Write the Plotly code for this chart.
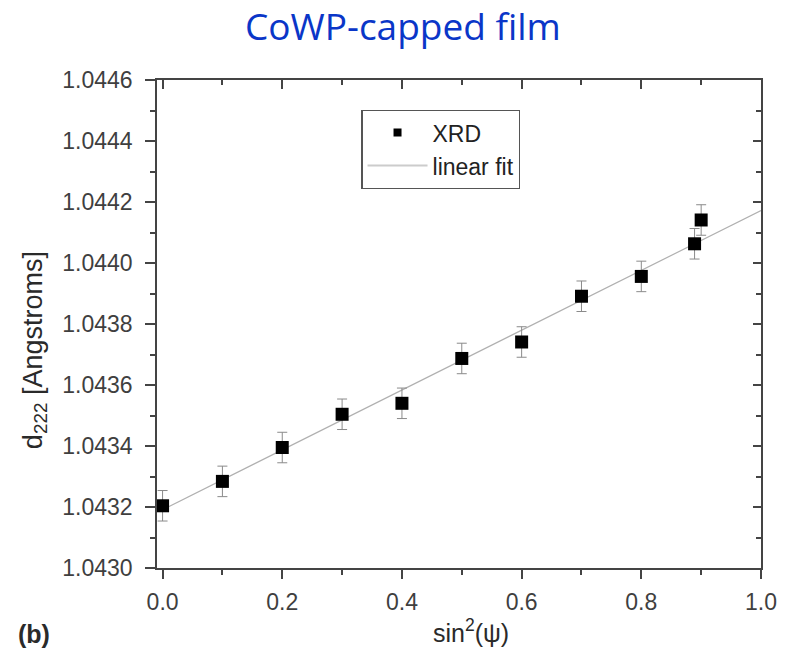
import plotly.graph_objects as go

# ---- data ----
sin2psi = [0.0, 0.1, 0.2, 0.3, 0.4, 0.5, 0.6, 0.7, 0.8, 0.889, 0.9]
d222 = [1.043204, 1.043284, 1.043395, 1.043504, 1.043540, 1.043687,
        1.043741, 1.043891, 1.043956, 1.044063, 1.044141]
d222_err = [0.00005] * len(sin2psi)
fit_x = [0.0, 1.0]
fit_y = [1.043191, 1.044172]

x_ticks = [0.0, 0.2, 0.4, 0.6, 0.8, 1.0]
x_ticklabels = ["0.0", "0.2", "0.4", "0.6", "0.8", "1.0"]
y_ticks = [1.0430, 1.0432, 1.0434, 1.0436, 1.0438, 1.0440, 1.0442, 1.0444, 1.0446]
y_ticklabels = ["1.0430", "1.0432", "1.0434", "1.0436", "1.0438", "1.0440",
                "1.0442", "1.0444", "1.0446"]

XR = [-0.0093, 1.0]
YR = [1.0430, 1.0446]

W, H = 789, 650
L, R, T, B = 157, 26, 80, 81.5
PW, PH = W - L - R, H - T - B


def px(xp):
    return (xp - L) / PW


def py(yp):
    return (H - B - yp) / PH


AX_FONT = dict(family="Liberation Sans, Arial, sans-serif", size=23, color="#3f3f3f")
AX_COL = "#444444"

fig = go.Figure()

fig.add_trace(go.Scatter(
    x=fit_x, y=fit_y, mode="lines",
    line=dict(color="#b0b0b0", width=1.2),
    name="linear fit", showlegend=False))

fig.add_trace(go.Scatter(
    x=sin2psi, y=d222, mode="markers",
    marker=dict(symbol="square", size=13, color="black"),
    error_y=dict(type="data", array=d222_err, visible=True,
                 color="#8a8a8a", thickness=1, width=5),
    name="XRD", showlegend=False))

# legend-only entries (small marker like the reference legend)
fig.add_trace(go.Scatter(
    x=[None], y=[None], mode="markers",
    marker=dict(symbol="square", size=8, color="black"), name="XRD"))
fig.add_trace(go.Scatter(
    x=[None], y=[None], mode="lines",
    line=dict(color="#cccccc", width=2), name="linear fit"))

# mirrored axes with inward ticks
fig.add_trace(go.Scatter(x=[None], y=[None], xaxis="x2", yaxis="y2",
                         showlegend=False, hoverinfo="skip"))

common_x = dict(range=XR, tickvals=x_ticks, ticktext=x_ticklabels,
                showgrid=False, zeroline=False, showline=True,
                linecolor=AX_COL, linewidth=1.5, tickcolor=AX_COL,
                tickwidth=1.5, minor=dict(dtick=0.1, ticklen=5, tickcolor=AX_COL,
                                          tickwidth=1.5, showgrid=False))
common_y = dict(range=YR, tickvals=y_ticks, ticktext=y_ticklabels,
                showgrid=False, zeroline=False, showline=True,
                linecolor=AX_COL, linewidth=1.5, tickcolor=AX_COL,
                tickwidth=1.5, minor=dict(dtick=0.0001, tick0=1.0430, ticklen=5,
                                          tickcolor=AX_COL, tickwidth=1.5,
                                          showgrid=False))

fig.update_layout(
    width=W, height=H,
    margin=dict(l=L, r=R, t=T, b=B, pad=0),
    paper_bgcolor="white", plot_bgcolor="white",
    xaxis=dict(**common_x, ticks="outside", ticklen=9, tickfont=AX_FONT,
               ticklabelstandoff=4),
    yaxis=dict(**common_y, ticks="outside", ticklen=10, tickfont=AX_FONT,
               ticklabelstandoff=8),
    xaxis2=dict(**common_x, overlaying="x", side="top", ticks="inside",
                ticklen=9, showticklabels=False),
    yaxis2=dict(**common_y, overlaying="y", side="right", ticks="inside",
                ticklen=8, showticklabels=False),
    legend=dict(x=px(362), y=py(110), xanchor="left", yanchor="top",
                bgcolor="white", bordercolor="#555555", borderwidth=1.2,
                font=dict(family="Liberation Sans, Arial, sans-serif",
                          size=23, color="#222222"),
                tracegroupgap=0, itemwidth=60),
    showlegend=True,
)
fig.update_layout(xaxis2_minor_ticks="inside", yaxis2_minor_ticks="inside",
                  xaxis_minor_ticks="outside", yaxis_minor_ticks="outside")

fig.add_annotation(text="CoWP-capped film", xref="paper", yref="paper",
                   x=px(403.5), y=py(25), xanchor="center", yanchor="middle",
                   showarrow=False,
                   font=dict(family="Open Sans, Lato, sans-serif", size=37,
                             color="#0a36c8"))
fig.add_annotation(text="sin<sup>2</sup>(ψ)", xref="paper", yref="paper",
                   x=px(472), y=py(632), xanchor="center", yanchor="middle",
                   showarrow=False,
                   font=dict(family="Liberation Sans, Arial, sans-serif", size=25,
                             color="#2a2a2a"))
fig.add_annotation(text="<b>(b)</b>", xref="paper", yref="paper",
                   x=px(16), y=py(635), xanchor="left", yanchor="middle",
                   showarrow=False,
                   font=dict(family="Liberation Sans, Arial, sans-serif", size=25,
                             color="#2a2a2a"))
fig.add_annotation(text="d<sub>222</sub> [Angstroms]", xref="paper", yref="paper",
                   x=px(34), y=py(350), xanchor="center", yanchor="middle",
                   textangle=-90, showarrow=False,
                   font=dict(family="Liberation Sans, Arial, sans-serif", size=27,
                             color="#2a2a2a"))

fig.write_html("out.html", config={"displayModeBar": False},
               post_script="document.body.style.margin='0px';"
                           "document.body.style.overflow='hidden';")
